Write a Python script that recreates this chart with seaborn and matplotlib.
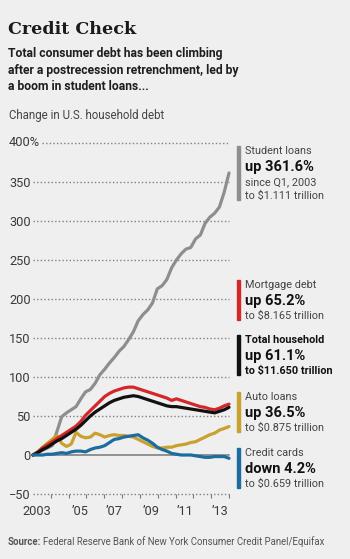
import numpy as np
import pandas as pd
import matplotlib
matplotlib.use("Agg")
import matplotlib.pyplot as plt
import seaborn as sns
from matplotlib.patches import Rectangle

# === Data (percent change since Q1 2003, quarterly to Q2 2013) ===
quarters = [f"{2003 + i // 4}Q{i % 4 + 1}" for i in range(42)]

student = [0, 3, 6, 9, 12, 30, 49, 54, 58, 62, 72, 81, 84, 92, 103, 110, 118, 125,
           133, 139, 148, 158, 172, 180, 186, 195, 213, 217, 225, 240, 250, 258,
           264, 266, 277, 282, 297, 305, 310, 318, 337, 361.6]
mortgage = [0, 4, 9, 13, 17, 21, 25, 29, 33, 37, 43, 51, 57, 63, 69, 75, 79, 82,
            84, 86, 87, 87, 85, 83, 81, 79, 77, 75, 73, 70, 72, 70, 68, 66, 64,
            62, 61, 59, 58, 60, 63, 65.2]
total = [0, 3, 7, 10, 14, 18, 21, 25, 29, 33, 38, 44, 50, 55, 59, 63, 67, 70, 72,
         74, 75, 76, 75, 73, 71, 69, 67, 65, 63, 62, 62, 61, 60, 59, 58, 57, 56,
         55, 54, 56, 58, 61.1]
auto = [0, 4, 10, 15, 20, 25, 15, 11, 14, 29, 24, 22, 23, 28, 26, 23, 25, 26, 25,
        25, 24, 23, 20, 17, 14, 11, 9, 9, 10, 10, 12, 13, 14, 16, 17, 20, 23, 26,
        28, 32, 34, 36.5]
cards = [0, 0, 0, 1, 1, 2, 3, 2, 4, 5, 5, 4, 7, 9, 10, 12, 16, 20, 21, 23, 24, 25,
         26, 22, 19, 15, 10, 7, 5, 2, 1, 0, 0, 0, -1, -2, -3, -3, -2, -2, -2, -4.2]

series_names = ["Student loans", "Auto loans", "Mortgage debt", "Total household", "Credit cards"]
series_values = [student, auto, mortgage, total, cards]
colors = ["#8e8e8e", "#c9a12e", "#d3282a", "#111111", "#1c6c9e"]

yticks = [-50, 0, 50, 100, 150, 200, 250, 300, 350, 400]
ytick_labels = ["\u221250", "0", "50", "100", "150", "200", "250", "300", "350", ""]
xlabels = ["2003", "\u201905", "\u201907", "\u201909", "\u201911", "\u201913"]
xlabel_pos = [0.84, 9.8, 17.05, 24.8, 31.8, 39.2]

labels = [
    ("Student loans", "up 361.6%", ["since Q1, 2003", "to $1.111 trillion"]),
    ("Mortgage debt", "up 65.2%", ["to $8.165 trillion"]),
    ("Total household", "up 61.1%", ["to $11.650 trillion"]),
    ("Auto loans", "up 36.5%", ["to $0.875 trillion"]),
    ("Credit cards", "down 4.2%", ["to $0.659 trillion"]),
]
label_colors = ["#8e8e8e", "#d3282a", "#111111", "#c9a12e", "#1c6c9e"]
label_tops = [146, 280, 335, 392, 448]

# === Long-form table ===
rows = []
for name, vals in zip(series_names, series_values):
    for i, v in enumerate(vals):
        rows.append({"q": i, "quarter": quarters[i], "series": name, "pct": v})
df = pd.DataFrame(rows)

# === Figure ===
W, H = 350, 559
BG = "#efefef"
sns.set_style("white")
plt.rcParams["font.family"] = ["Roboto", "DejaVu Sans"]

fig = plt.figure(figsize=(W / 100, H / 100), dpi=100, facecolor=BG)
ax = fig.add_axes([33 / W, 1 - 494 / H, 196 / W, 351 / H])
ax.set_facecolor(BG)


def fx(px):
    return px / W


def fy(py):
    return 1 - py / H


# gridlines
for y in yticks:
    if y == 0:
        ax.axhline(0, color="#8a8a8a", lw=1.3, zorder=1)
    elif y == 400:
        ax.axhline(y, xmin=(42 - 33) / 196, xmax=1, color="#808080", lw=1.0,
                   ls=(0, (1, 1.6)), zorder=1)
    else:
        ax.axhline(y, color="#808080", lw=1.0, ls=(0, (1, 1.6)), zorder=1)

sns.lineplot(data=df, x="q", y="pct", hue="series", hue_order=series_names,
             palette=colors, lw=2.3, legend=False, ax=ax, zorder=3)
for line in ax.get_lines():
    line.set_clip_on(False)

ax.set_xlim(0, 41)
ax.set_ylim(-50, 400)
sns.despine(ax=ax, left=True, bottom=True)

# y labels
ax.set_yticks(yticks)
ax.set_yticklabels(ytick_labels)
ax.tick_params(axis="y", length=0, pad=1.5, labelsize=9.2, labelcolor="#3a3a3a")
fig.text(fx(9), fy(143), "400%", ha="left", va="center", fontsize=9.2,
         color="#3a3a3a")

# x ticks: labels at mid-year, small tick marks at year boundaries
ax.set_xticks(xlabel_pos)
ax.set_xticklabels(xlabels)
ax.set_xticks([k * 41 / 11 for k in range(1, 12)], minor=True)
ax.tick_params(axis="x", which="major", length=0, pad=8, labelsize=9.2,
               labelcolor="#3a3a3a")
ax.tick_params(axis="x", which="minor", length=3, width=0.8, color="#777777",
               direction="out", bottom=True)
ax.xaxis.set_ticks_position("bottom")
ax.set_xlabel("")
ax.set_ylabel("")

# === Titles ===
fig.text(fx(8), fy(30), "Credit Check", fontsize=12.6, fontweight="bold",
         family=["DejaVu Serif"], color="#1a1a1a", va="center")
sub = ["Total consumer debt has been climbing",
       "after a postrecession retrenchment, led by",
       "a boom in student loans..."]
for i, s in enumerate(sub):
    fig.text(fx(8), fy(54 + i * 16.5), s, fontsize=8.7, fontweight="bold",
             color="#1e1e1e", va="center")
fig.text(fx(9), fy(115), "Change in U.S. household debt", fontsize=8.3,
         color="#444444", va="center")

# === Right-side annotations ===
for (name, big, rest), col, top in zip(labels, label_colors, label_tops):
    n = 2 + len(rest)
    height = 14.5 * n - 4
    fig.add_artist(Rectangle((fx(236.5), fy(top + height)), 3.5 / W, height / H,
                             transform=fig.transFigure, color=col))
    is_total = name == "Total household"
    txt_col = "#111111" if is_total else "#444444"
    fw = "bold" if is_total else "normal"
    fig.text(fx(245), fy(top + 5), name, fontsize=7.8, color=txt_col,
             fontweight=fw, va="center")
    fig.text(fx(245), fy(top + 21), big, fontsize=10.5, color="#111111",
             fontweight="bold", va="center")
    for j, r in enumerate(rest):
        fig.text(fx(245), fy(top + 36 + j * 14), r, fontsize=7.8, color=txt_col,
                 fontweight=fw, va="center")

# === Source ===
src = fig.text(fx(8), fy(542), "Source:", fontsize=6.9, fontweight="bold",
               color="#555555", va="center")
fig.canvas.draw()
bb = src.get_window_extent()
fig.text((bb.x1 + 2) / W, fy(542),
         "Federal Reserve Bank of New York Consumer Credit Panel/Equifax",
         fontsize=6.9, color="#555555", va="center")

fig.savefig("out.png", dpi=100, facecolor=BG)
